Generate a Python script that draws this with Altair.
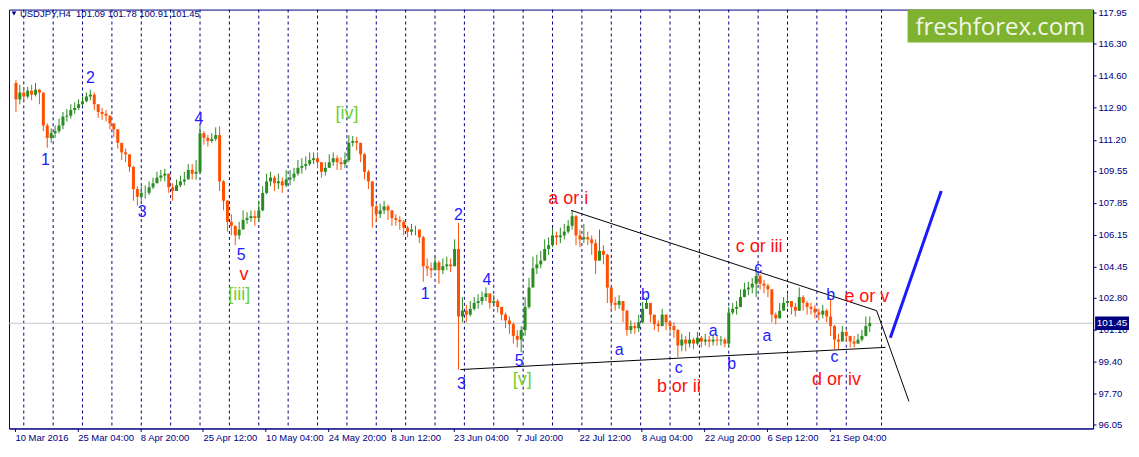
import json
import pandas as pd
import altair as alt

NAVY = '#000080'
UP = '#2a8c22'
DOWN = '#ff4f00'
FONT = 'Liberation Sans'

# USDJPY H4, one candle per 4 bars
first_open = 114.22
close = [
    113.35, 113.71, 113.50, 113.81, 113.60, 113.86, 113.71, 111.96, 111.30, 111.55,
    111.66, 111.96, 112.43, 112.48, 112.78, 112.89, 113.09, 113.25, 113.50, 113.60,
    113.09, 112.68, 112.58, 112.48, 112.07, 111.76, 111.04, 110.53, 110.43, 109.76,
    108.58, 108.17, 108.38, 108.38, 108.68, 108.89, 109.19, 109.30, 109.40, 108.68,
    108.48, 108.78, 108.99, 109.09, 109.60, 109.40, 109.50, 111.55, 111.30, 111.14,
    111.25, 111.45, 108.99, 107.96, 106.84, 106.63, 106.12, 106.43, 106.94, 107.04,
    107.14, 107.04, 107.45, 108.38, 108.99, 109.19, 108.89, 108.99, 108.78, 109.09,
    109.19, 109.40, 109.71, 109.81, 109.91, 110.12, 110.22, 110.01, 109.50, 109.71,
    110.01, 110.22, 110.01, 109.91, 110.12, 111.04, 111.14, 111.04, 110.43, 109.50,
    108.99, 107.66, 107.25, 107.45, 107.66, 107.45, 107.04, 106.94, 106.84, 106.53,
    106.32, 106.43, 106.43, 106.02, 104.48, 104.37, 104.27, 104.68, 104.27, 104.48,
    104.58, 104.48, 105.40, 101.81, 102.12, 101.91, 102.22, 102.53, 102.63, 102.84,
    103.04, 102.53, 102.63, 102.32, 101.91, 101.60, 101.40, 100.78, 100.58, 101.09,
    102.32, 103.35, 104.37, 104.58, 104.78, 105.40, 105.60, 106.12, 106.02, 106.12,
    106.32, 106.63, 107.14, 106.12, 105.91, 106.02, 105.91, 105.71, 104.78, 105.30,
    105.09, 103.35, 102.53, 102.43, 102.63, 102.12, 101.09, 101.30, 101.19, 101.50,
    102.22, 102.53, 101.91, 101.40, 101.30, 101.91, 101.50, 101.30, 101.09, 100.27,
    100.58, 100.37, 100.58, 100.37, 100.68, 100.48, 100.58, 100.48, 100.58, 100.53,
    100.58, 100.37, 102.02, 102.22, 102.32, 102.84, 103.25, 103.35, 103.55, 103.96,
    103.55, 103.45, 103.25, 101.91, 101.71, 102.12, 102.53, 102.63, 102.32, 102.12,
    102.84, 102.53, 102.32, 102.22, 102.02, 101.91, 102.12, 101.81, 101.30, 100.58,
    100.48, 100.99, 100.78, 100.48, 100.37, 100.58, 100.78, 101.30, 101.45,
]
high = [
    114.37, 114.12, 114.01, 114.01, 114.12, 114.22, 113.91, 113.71, 112.07, 111.81,
    111.96, 112.32, 112.68, 112.84, 113.09, 113.19, 113.35, 113.50, 113.71, 113.86,
    113.71, 113.09, 112.89, 112.78, 112.48, 112.07, 111.45, 110.84, 110.73, 110.12,
    109.80, 108.73, 108.73, 108.78, 108.99, 109.19, 109.50, 109.60, 109.66, 109.40,
    108.89, 109.09, 109.30, 109.50, 109.91, 109.91, 110.12, 111.91, 111.66, 111.45,
    111.55, 111.86, 111.91, 109.05, 108.00, 107.25, 106.63, 106.84, 107.45, 107.35,
    107.45, 107.45, 107.96, 108.73, 109.40, 109.50, 109.30, 109.40, 109.19, 109.60,
    109.60, 109.71, 110.12, 110.22, 110.32, 110.53, 110.53, 110.53, 110.01, 110.01,
    110.43, 110.53, 110.37, 110.27, 110.53, 111.45, 111.40, 111.35, 111.04, 110.50,
    109.60, 108.99, 107.76, 107.81, 107.96, 107.76, 107.45, 107.25, 107.14, 106.94,
    106.63, 106.73, 106.63, 106.43, 106.10, 104.89, 104.68, 104.99, 104.78, 104.89,
    104.99, 104.89, 105.91, 106.78, 102.84, 102.43, 102.63, 102.84, 102.99, 103.14,
    103.35, 102.94, 102.94, 102.73, 102.32, 102.02, 101.81, 101.50, 101.09, 101.30,
    102.84, 103.86, 104.99, 105.09, 105.30, 105.91, 106.02, 106.53, 106.32, 106.53,
    106.73, 106.94, 107.45, 107.20, 106.43, 106.73, 106.32, 106.12, 105.91, 106.43,
    105.60, 105.15, 103.40, 102.84, 102.94, 102.63, 102.15, 101.60, 101.50, 101.91,
    102.58, 102.84, 102.43, 101.81, 101.60, 102.22, 101.91, 101.60, 101.50, 101.15,
    100.89, 100.78, 100.99, 100.68, 100.99, 100.78, 100.89, 100.78, 100.89, 100.78,
    100.78, 100.68, 102.32, 102.53, 102.63, 103.25, 103.60, 103.66, 103.86, 104.27,
    104.07, 103.76, 103.55, 103.25, 102.02, 102.53, 102.84, 103.04, 102.63, 102.53,
    103.35, 102.94, 102.63, 102.53, 102.43, 102.22, 102.43, 102.22, 102.73, 101.35,
    100.89, 101.30, 101.09, 100.78, 100.78, 100.89, 101.09, 101.81, 101.81,
]
low = [
    112.68, 113.09, 113.19, 113.40, 113.30, 113.50, 113.09, 111.66, 110.78, 111.04,
    111.30, 111.55, 111.76, 112.17, 112.32, 112.58, 112.78, 112.99, 113.19, 113.30,
    112.78, 112.37, 112.27, 112.17, 111.76, 111.35, 110.73, 110.12, 110.01, 109.50,
    107.96, 107.71, 107.96, 108.07, 108.27, 108.58, 108.89, 108.99, 108.99, 108.38,
    107.96, 108.48, 108.68, 108.78, 109.25, 109.09, 109.09, 109.40, 110.94, 110.84,
    111.04, 111.14, 108.48, 107.45, 106.32, 106.12, 105.60, 105.91, 106.53, 106.73,
    106.84, 106.63, 106.84, 107.40, 108.30, 108.73, 108.48, 108.58, 108.38, 108.68,
    108.78, 108.99, 109.30, 109.40, 109.60, 109.81, 109.91, 109.71, 109.19, 109.30,
    109.71, 109.81, 109.60, 109.60, 109.71, 110.01, 110.84, 110.63, 110.01, 109.09,
    108.58, 106.53, 106.84, 107.04, 107.25, 106.94, 106.63, 106.63, 106.43, 106.12,
    106.02, 106.12, 106.12, 105.71, 103.66, 103.96, 103.86, 104.27, 103.55, 104.07,
    104.27, 104.17, 104.48, 98.99, 101.50, 101.50, 101.81, 102.12, 102.22, 102.43,
    102.63, 102.22, 102.32, 102.02, 101.60, 101.19, 100.89, 100.37, 100.17, 99.91,
    100.78, 102.22, 103.35, 104.07, 104.37, 104.78, 105.09, 105.50, 105.60, 105.71,
    105.91, 106.22, 106.43, 105.60, 105.50, 105.71, 105.60, 105.09, 104.07, 104.78,
    104.58, 102.53, 102.12, 102.12, 102.22, 101.50, 100.78, 100.89, 100.89, 100.99,
    101.45, 102.22, 101.50, 101.09, 100.99, 101.30, 101.09, 100.99, 100.68, 99.66,
    99.96, 99.96, 100.17, 100.07, 100.27, 100.17, 100.27, 100.17, 100.27, 100.27,
    100.27, 100.17, 100.17, 101.91, 101.91, 102.30, 102.84, 102.94, 103.04, 102.84,
    103.25, 103.04, 102.84, 101.50, 101.40, 101.81, 102.22, 102.32, 101.91, 101.81,
    102.10, 102.12, 101.91, 101.91, 101.71, 101.60, 101.71, 101.50, 100.78, 100.07,
    100.07, 100.58, 100.48, 100.17, 100.17, 100.37, 100.48, 100.75, 100.99,
]
last_price = 101.45

# axes
date_bars = [0, 64, 128, 192, 256, 320, 384, 448, 512, 576, 640, 704, 768, 832]
date_labels = ['10 Mar 2016', '25 Mar 04:00', '8 Apr 20:00', '25 Apr 12:00',
               '10 May 04:00', '24 May 20:00', '8 Jun 12:00', '23 Jun 04:00',
               '7 Jul 20:00', '22 Jul 12:00', '8 Aug 04:00', '22 Aug 20:00',
               '6 Sep 12:00', '21 Sep 04:00']
price_ticks = [117.95, 116.30, 114.60, 112.90, 111.20, 109.55, 107.85, 106.15,
               104.45, 102.80, 101.10, 99.40, 97.70, 96.05]
grid_bars = [9, 39, 69, 99, 129, 159, 189, 219, 249, 279, 309, 339, 369, 399, 429,
             459, 489, 519, 549, 579, 609, 639, 669, 699, 729, 759, 789, 819, 849, 885]

# wave markup
blue_text = ['1', '2', '3', '4', '5', '1', '2', '3', '4', '5',
             'a', 'b', 'c', 'a', 'b', 'c', 'a', 'b', 'c']
blue_bar = [31, 77, 130, 188, 231, 419, 453, 456, 482, 515,
            617, 644, 678, 713, 732, 759, 768, 833, 837]
blue_price = [110.12, 114.48, 107.35, 112.32, 105.09, 102.99, 107.19, 98.22, 103.76, 99.45,
              100.02, 102.94, 99.09, 101.04, 99.30, 104.40, 100.78, 102.94, 99.65]
red_text = ['v', 'a or i', 'b or ii', 'c or iii', 'd or iv', 'e or v']
red_bar = [234, 565, 678, 760, 839, 870]
red_price = [104.00, 108.07, 98.07, 105.50, 98.45, 102.84]
green_text = ['[iii]', '[iv]', '[v]']
green_bar = [229, 339, 518]
green_price = [102.95, 112.58, 98.43]

# triangle lines and forecast
upper_bar = [568, 880, 913]
upper_price = [107.45, 102.12, 97.30]
lower_bar = [455, 889]
lower_price = [98.99, 100.17]
target_bar = [894, 946]
target_price = [100.68, 108.48]

candles = pd.DataFrame({'bar': [4 * i + 1 for i in range(len(close))],
                        'close': close, 'high': high, 'low': low})
candles['open'] = [first_open] + close[:-1]
candles['dir'] = ['up' if c >= o else 'down' for c, o in zip(candles['close'], candles['open'])]

lines = pd.DataFrame({
    'bar': upper_bar + lower_bar,
    'price': upper_price + lower_price,
    'line': ['upper'] * len(upper_bar) + ['lower'] * len(lower_bar),
    'order': list(range(len(upper_bar))) + list(range(len(lower_bar))),
})
target = pd.DataFrame({'bar': target_bar, 'price': target_price})

X_SCALE = alt.Scale(domain=[-1, 1096], nice=False, zero=False)
Y_SCALE = alt.Scale(domain=[95.86, 118.12], nice=False, zero=False)
label_map = json.dumps(dict(zip([str(b) for b in date_bars], date_labels)))
x_axis = alt.Axis(values=date_bars, labelExpr=label_map + '[datum.value]', title=None,
                  grid=False, tickSize=3, labelAlign='left', labelBaseline='top',
                  labelPadding=1, labelOverlap=False, labelFlush=False, labelBound=False)
y_axis = alt.Axis(orient='right', values=price_ticks, format='.2f', title=None, grid=False,
                  tickSize=3, labelPadding=2, labelOverlap=False, labelFlush=False,
                  labelBound=False)


def X(field):
    return alt.X(field, type='quantitative', scale=X_SCALE, axis=x_axis)


def Y(field):
    return alt.Y(field, type='quantitative', scale=Y_SCALE, axis=y_axis)


color = alt.Color('dir:N', scale=alt.Scale(domain=['up', 'down'], range=[UP, DOWN]), legend=None)

grid = alt.Chart(pd.DataFrame({'bar': grid_bars})).mark_rule(
    color=NAVY, strokeDash=[3, 3], strokeWidth=1).encode(x=X('bar'))
price_line = alt.Chart(pd.DataFrame({'price': [last_price]})).mark_rule(
    color='#c8c8c8', strokeWidth=1).encode(y=Y('price'))

base = alt.Chart(candles)
wicks = base.mark_rule(strokeWidth=1).encode(x=X('bar'), y=Y('low'), y2='high', color=color)
bodies = base.mark_bar(size=3).encode(x=X('bar'), y=Y('open'), y2='close', color=color)

trend = alt.Chart(lines).mark_line(color='black', strokeWidth=1).encode(
    x=X('bar'), y=Y('price'), detail='line:N', order='order:Q')
forecast = alt.Chart(target).mark_line(color='#1a1aff', strokeWidth=3).encode(
    x=X('bar'), y=Y('price'))


def labels(bars, prices, texts, colour, size):
    df = pd.DataFrame({'bar': bars, 'price': prices, 'text': texts})
    return alt.Chart(df).mark_text(font=FONT, fontSize=size, color=colour,
                                   align='center', baseline='middle').encode(
        x=X('bar'), y=Y('price'), text='text:N')


blue_lbl = labels(blue_bar, blue_price, blue_text, '#2020ff', 16)
red_lbl = labels(red_bar, red_price, red_text, '#ff1010', 18)
green_lbl = labels(green_bar, green_price, green_text, '#6fcf2f', 18)

logo_df = pd.DataFrame({'t': ['freshforex.com']})
logo_box = alt.Chart(logo_df).mark_rect(color='#7fb22e').encode(
    x=alt.value(901), x2=alt.value(1087), y=alt.value(0), y2=alt.value(33))
logo_txt = alt.Chart(logo_df).mark_text(font='Open Sans', fontSize=24, color='#f3f5e8',
                                        align='center', baseline='alphabetic').encode(
    x=alt.value(994), y=alt.value(25), text='t:N')

head_df = pd.DataFrame({'t': ['USDJPY,H4\u00a0\u00a0101.09 101.78 100.91 101.45']})
header = alt.Chart(head_df).mark_text(font=FONT, fontSize=9.5, color=NAVY,
                                      align='left', baseline='middle').encode(
    x=alt.value(11), y=alt.value(4), text='t:N')
arrow = alt.Chart(head_df).mark_point(shape='triangle-down', filled=True, size=22,
                                      color=NAVY, opacity=1).encode(
    x=alt.value(5), y=alt.value(4))

tag_df = pd.DataFrame({'price': [last_price], 'label': [f'{last_price:.2f}']})
tag_box = alt.Chart(tag_df).mark_point(shape='M-1,-0.4H1V0.4H-1Z', filled=True, size=1156,
                                       color=NAVY, opacity=1, clip=False).encode(
    x=alt.value(1106), y=Y('price'))
tag_txt = alt.Chart(tag_df).mark_text(font=FONT, fontSize=10, color='white',
                                      clip=False).encode(
    x=alt.value(1106), y=Y('price'), text='label:N')

chart = alt.layer(
    grid, price_line, wicks, bodies, trend, forecast,
    blue_lbl, red_lbl, green_lbl, logo_box, logo_txt, header, arrow, tag_box, tag_txt,
).properties(
    width=1087, height=420,
    padding={'left': 1, 'top': 1, 'right': 38, 'bottom': 17},
    autosize=alt.AutoSizeParams(type='none'),
).configure_view(
    stroke=NAVY, strokeWidth=1
).configure_axis(
    domainColor=NAVY, tickColor=NAVY, labelColor=NAVY,
    labelFont=FONT, labelFontSize=9.5
)

chart.save('out.html', embed_options={'renderer': 'svg', 'actions': False})
